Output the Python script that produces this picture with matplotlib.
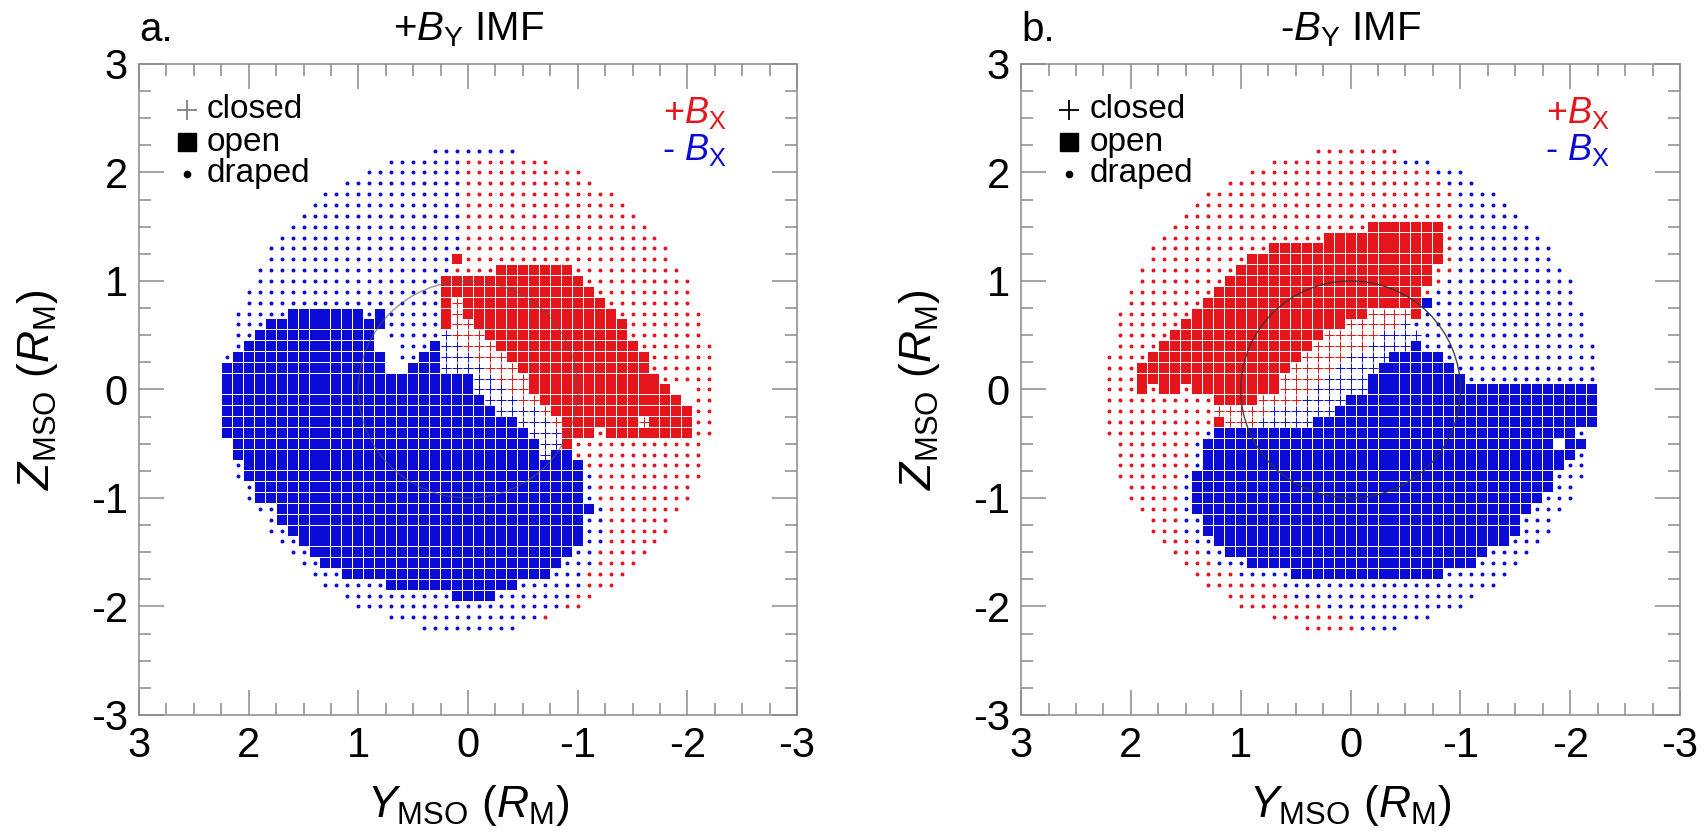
import numpy as np
import matplotlib
matplotlib.use("Agg")
import matplotlib.pyplot as plt
from matplotlib.patches import Circle
from matplotlib.ticker import MultipleLocator

plt.rcParams['font.family'] = ['Liberation Sans', 'DejaVu Sans']
plt.rcParams['mathtext.fontset'] = 'custom'
plt.rcParams['mathtext.rm'] = 'Liberation Sans'
plt.rcParams['mathtext.it'] = 'Liberation Sans:italic'
plt.rcParams['axes.unicode_minus'] = False

# grid of the map: columns go from Y = 2.2 (left) to -2.2, rows from Z = 2.2 (top) to -2.2
y_cols = np.round(np.linspace(2.2, -2.2, 45), 1)
z_rows = np.round(np.linspace(2.2, -2.2, 45), 1)

# each row: runs of (first column, last column, kind)
# b/r = draped (-Bx / +Bx), B/R = open, p/q = closed (-Bx / +Bx)
rows_a = [
    [(19, 26, 'b')],
    [(15, 21, 'b'), (22, 29, 'r')],
    [(13, 21, 'b'), (22, 32, 'r')],
    [(11, 21, 'b'), (22, 33, 'r')],
    [(9, 21, 'b'), (22, 35, 'r')],
    [(8, 21, 'b'), (22, 36, 'r')],
    [(7, 21, 'b'), (22, 37, 'r')],
    [(6, 21, 'b'), (22, 38, 'r')],
    [(5, 21, 'b'), (22, 39, 'r')],
    [(4, 21, 'b'), (22, 40, 'r')],
    [(4, 20, 'b'), (21, 21, 'R'), (22, 40, 'r')],
    [(3, 20, 'b'), (21, 24, 'r'), (25, 31, 'R'), (32, 41, 'r')],
    [(3, 19, 'b'), (20, 32, 'R'), (33, 42, 'r')],
    [(2, 19, 'b'), (20, 33, 'R'), (34, 42, 'r')],
    [(2, 19, 'b'), (20, 20, 'R'), (21, 21, 'q'), (22, 34, 'R'), (35, 42, 'r')],
    [(1, 5, 'b'), (6, 12, 'B'), (13, 13, 'b'), (14, 14, 'B'), (15, 19, 'b'), (20, 20, 'R'),
     (21, 21, 'q'), (22, 35, 'R'), (36, 43, 'r')],
    [(1, 3, 'b'), (4, 14, 'B'), (15, 19, 'b'), (20, 20, 'R'), (21, 22, 'q'), (23, 36, 'R'), (37, 43, 'r')],
    [(1, 2, 'b'), (3, 13, 'B'), (15, 19, 'b'), (20, 20, 'p'), (21, 23, 'q'), (24, 36, 'R'), (37, 43, 'r')],
    [(1, 1, 'b'), (2, 13, 'B'), (16, 18, 'b'), (19, 19, 'B'), (20, 21, 'p'), (22, 24, 'q'),
     (25, 37, 'R'), (38, 44, 'r')],
    [(0, 0, 'b'), (1, 14, 'B'), (16, 17, 'b'), (18, 19, 'B'), (20, 22, 'p'), (23, 25, 'q'),
     (26, 38, 'R'), (39, 44, 'r')],
    [(0, 14, 'B'), (17, 19, 'B'), (20, 23, 'p'), (24, 26, 'q'), (27, 38, 'R'), (39, 44, 'r')],
    [(0, 22, 'B'), (23, 24, 'p'), (25, 27, 'q'), (28, 39, 'R'), (40, 44, 'r')],
    [(0, 22, 'B'), (23, 25, 'p'), (26, 27, 'q'), (28, 40, 'R'), (43, 44, 'r')],
    [(0, 23, 'B'), (24, 26, 'p'), (27, 28, 'q'), (29, 41, 'R'), (43, 44, 'r')],
    [(0, 24, 'B'), (25, 28, 'p'), (29, 29, 'q'), (30, 42, 'R'), (43, 44, 'r')],
    [(0, 26, 'B'), (27, 29, 'p'), (30, 30, 'q'), (31, 37, 'R'), (38, 38, 'q'), (39, 42, 'R'), (43, 44, 'r')],
    [(0, 27, 'B'), (28, 30, 'p'), (31, 33, 'R'), (34, 34, 'r'), (35, 42, 'R'), (43, 44, 'r')],
    [(1, 28, 'B'), (29, 30, 'p'), (31, 31, 'R'), (32, 43, 'r')],
    [(1, 28, 'B'), (29, 29, 'p'), (30, 31, 'B'), (32, 43, 'r')],
    [(1, 1, 'b'), (2, 32, 'B'), (33, 43, 'r')],
    [(1, 1, 'b'), (2, 32, 'B'), (33, 33, 'b'), (34, 43, 'r')],
    [(2, 2, 'b'), (3, 32, 'B'), (33, 33, 'b'), (34, 42, 'r')],
    [(2, 2, 'b'), (3, 32, 'B'), (33, 33, 'b'), (34, 42, 'r')],
    [(3, 4, 'b'), (5, 33, 'B'), (34, 34, 'b'), (35, 41, 'r')],
    [(4, 4, 'b'), (5, 32, 'B'), (33, 34, 'b'), (35, 40, 'r')],
    [(4, 5, 'b'), (6, 32, 'B'), (33, 34, 'b'), (35, 40, 'r')],
    [(5, 6, 'b'), (7, 32, 'B'), (33, 34, 'b'), (35, 39, 'r')],
    [(6, 7, 'b'), (8, 31, 'B'), (32, 33, 'b'), (34, 38, 'r')],
    [(7, 8, 'b'), (9, 30, 'B'), (31, 33, 'b'), (34, 37, 'r')],
    [(8, 10, 'b'), (11, 29, 'B'), (30, 32, 'b'), (33, 36, 'r')],
    [(9, 14, 'b'), (15, 26, 'B'), (27, 32, 'b'), (33, 35, 'r')],
    [(11, 20, 'b'), (21, 24, 'B'), (25, 31, 'b'), (32, 33, 'r')],
    [(12, 30, 'b'), (31, 32, 'r')],
    [(15, 28, 'b'), (29, 29, 'r')],
    [(18, 26, 'b')],
]

rows_b = [
    [(19, 26, 'r')],
    [(15, 26, 'r'), (27, 29, 'b')],
    [(13, 29, 'r'), (30, 32, 'b')],
    [(11, 30, 'r'), (31, 33, 'b')],
    [(9, 31, 'r'), (32, 35, 'b')],
    [(8, 31, 'r'), (32, 36, 'b')],
    [(7, 31, 'r'), (32, 37, 'b')],
    [(6, 23, 'r'), (24, 30, 'R'), (31, 31, 'r'), (32, 38, 'b')],
    [(5, 19, 'r'), (20, 30, 'R'), (31, 31, 'r'), (32, 39, 'b')],
    [(4, 14, 'r'), (15, 30, 'R'), (31, 31, 'r'), (32, 40, 'b')],
    [(4, 12, 'r'), (13, 30, 'R'), (31, 31, 'r'), (32, 40, 'b')],
    [(3, 11, 'r'), (12, 29, 'R'), (30, 31, 'r'), (32, 41, 'b')],
    [(3, 10, 'r'), (11, 29, 'R'), (30, 30, 'r'), (31, 42, 'b')],
    [(2, 9, 'r'), (10, 28, 'R'), (29, 29, 'r'), (30, 42, 'b')],
    [(2, 8, 'r'), (9, 28, 'R'), (29, 29, 'B'), (30, 42, 'b')],
    [(1, 7, 'r'), (8, 23, 'R'), (24, 27, 'q'), (28, 28, 'R'), (29, 43, 'b')],
    [(1, 6, 'r'), (7, 21, 'R'), (22, 26, 'q'), (27, 27, 'p'), (28, 43, 'b')],
    [(1, 5, 'r'), (6, 19, 'R'), (20, 24, 'q'), (25, 28, 'p'), (29, 43, 'b')],
    [(1, 4, 'r'), (5, 18, 'R'), (19, 23, 'q'), (24, 27, 'p'), (28, 28, 'B'), (29, 44, 'b')],
    [(0, 3, 'r'), (4, 17, 'R'), (18, 21, 'q'), (22, 25, 'p'), (26, 30, 'B'), (31, 44, 'b')],
    [(0, 2, 'r'), (3, 16, 'R'), (17, 20, 'q'), (21, 24, 'p'), (25, 31, 'B'), (32, 44, 'b')],
    [(0, 2, 'r'), (3, 15, 'R'), (16, 19, 'q'), (20, 23, 'p'), (24, 32, 'B'), (33, 44, 'b')],
    [(0, 2, 'r'), (3, 3, 'R'), (4, 4, 'r'), (5, 6, 'R'), (7, 7, 'r'), (8, 15, 'R'), (16, 18, 'q'),
     (19, 23, 'p'), (24, 44, 'B')],
    [(0, 9, 'r'), (10, 13, 'R'), (14, 17, 'q'), (18, 21, 'p'), (22, 44, 'B')],
    [(0, 9, 'r'), (10, 14, 'q'), (15, 20, 'p'), (21, 44, 'B')],
    [(0, 9, 'r'), (10, 10, 'R'), (11, 13, 'q'), (14, 18, 'p'), (19, 44, 'B')],
    [(0, 8, 'r'), (9, 9, 'b'), (10, 42, 'B'), (43, 43, 'b')],
    [(1, 7, 'r'), (8, 8, 'b'), (9, 40, 'B'), (42, 43, 'B')],
    [(1, 7, 'r'), (8, 8, 'b'), (9, 42, 'B'), (43, 43, 'b')],
    [(1, 7, 'r'), (8, 8, 'b'), (9, 41, 'B'), (42, 43, 'b')],
    [(1, 6, 'r'), (7, 7, 'b'), (8, 40, 'B'), (41, 43, 'b')],
    [(2, 6, 'r'), (7, 7, 'b'), (8, 40, 'B'), (41, 42, 'b')],
    [(2, 6, 'r'), (7, 7, 'b'), (8, 39, 'B'), (40, 42, 'b')],
    [(3, 6, 'r'), (7, 7, 'b'), (8, 38, 'B'), (39, 41, 'b')],
    [(4, 6, 'r'), (7, 8, 'b'), (9, 37, 'B'), (38, 40, 'b')],
    [(4, 6, 'r'), (7, 8, 'b'), (9, 37, 'B'), (38, 40, 'b')],
    [(5, 7, 'r'), (8, 9, 'b'), (10, 36, 'B'), (37, 39, 'b')],
    [(6, 8, 'r'), (9, 10, 'b'), (11, 34, 'B'), (35, 38, 'b')],
    [(7, 9, 'r'), (10, 12, 'b'), (13, 33, 'B'), (34, 37, 'b')],
    [(8, 11, 'r'), (12, 16, 'b'), (17, 30, 'B'), (31, 36, 'b')],
    [(9, 15, 'r'), (16, 35, 'b')],
    [(11, 16, 'r'), (17, 33, 'b')],
    [(12, 19, 'r'), (20, 32, 'b')],
    [(15, 21, 'r'), (22, 29, 'b')],
    [(18, 22, 'r'), (23, 26, 'b')],
]

titles = [r'+$B_{\mathrm{Y}}$ IMF', r'-$B_{\mathrm{Y}}$ IMF']
letters = ['a.', 'b.']
legend_plus_colors = ['#808080', 'black']

RED = '#e6141b'
BLUE = '#0b0bd6'
styles = {
    'r': dict(marker='o', s=8, c=RED, linewidths=0),
    'b': dict(marker='o', s=8, c=BLUE, linewidths=0),
    'R': dict(marker='s', s=47, c=RED, linewidths=0),
    'B': dict(marker='s', s=47, c=BLUE, linewidths=0),
    'q': dict(marker='+', s=62, c=RED, linewidths=0.7),
    'p': dict(marker='+', s=62, c=BLUE, linewidths=0.7),
}


def draw_panel(ax, rows):
    pts = {k: ([], []) for k in styles}
    for i, runs in enumerate(rows):
        for c0, c1, kind in runs:
            for c in range(c0, c1 + 1):
                pts[kind][0].append(y_cols[c])
                pts[kind][1].append(z_rows[i])
    for kind, (xs, zs) in pts.items():
        if xs:
            ax.scatter(xs, zs, zorder=2, **styles[kind])


fig = plt.figure(figsize=(17.06, 8.34), dpi=100)
ax_a = fig.add_axes([0.0815, 0.1427, 0.3857, 0.7806])
ax_b = fig.add_axes([0.5985, 0.1427, 0.3863, 0.7806])

for k, (ax, rows) in enumerate([(ax_a, rows_a), (ax_b, rows_b)]):
    draw_panel(ax, rows)
    ax.add_patch(Circle((0, 0), 1.0, fill=False, ec='#333333' if k else '#555555',
                        lw=1.0, alpha=0.9 if k else 0.6, zorder=3))

    ax.set_xlim(3, -3)
    ax.set_ylim(-3, 3)
    ax.set_xticks([3, 2, 1, 0, -1, -2, -3])
    ax.set_xticklabels(['3', '2', '1', '0', '-1', '-2', '-3'])
    ax.set_yticks([-3, -2, -1, 0, 1, 2, 3])
    ax.set_yticklabels(['-3', '-2', '-1', '0', '1', '2', '3'])
    ax.xaxis.set_minor_locator(MultipleLocator(0.25))
    ax.yaxis.set_minor_locator(MultipleLocator(0.25))
    ax.tick_params(which='both', direction='in', top=True, right=True, color='#8a8a8a', width=1.1)
    ax.tick_params(which='major', length=18, labelsize=30, pad=8)
    ax.tick_params(which='minor', length=8.5)
    for sp in ax.spines.values():
        sp.set_color('#8a8a8a')
        sp.set_linewidth(1.1)

    ax.set_xlabel(r'$Y_{\mathrm{MSO}}$ ($R_{\mathrm{M}}$)', fontsize=32)
    ax.set_ylabel(r'$Z_{\mathrm{MSO}}$ ($R_{\mathrm{M}}$)', fontsize=32)
    ax.xaxis.set_label_coords(0.5, -0.104)
    ax.yaxis.set_label_coords(-0.12, 0.5)

    # key in the upper left corner
    ax.plot([2.56], [2.58], marker='+', ms=15, mew=1.3, color=legend_plus_colors[k], ls='none')
    ax.plot([2.56], [2.28], marker='s', ms=13, color='black', ls='none')
    ax.plot([2.56], [1.99], marker='o', ms=4.5, color='black', ls='none')
    ax.text(2.38, 2.58, 'closed', fontsize=24, va='center', ha='left')
    ax.text(2.38, 2.28, 'open', fontsize=24, va='center', ha='left')
    ax.text(2.38, 1.99, 'draped', fontsize=24, va='center', ha='left')
    ax.text(-2.36, 2.55, r'+$B_{\mathrm{X}}$', fontsize=26, color=RED, va='center', ha='right')
    ax.text(-2.36, 2.21, r'- $B_{\mathrm{X}}$', fontsize=26, color=BLUE, va='center', ha='right')

    pos = ax.get_position()
    fig.text(pos.x0, 0.951, letters[k], fontsize=29, ha='left', va='baseline')
    fig.text(pos.x0 + pos.width / 2, 0.951, titles[k], fontsize=29, ha='center', va='baseline')

fig.savefig('out.png', dpi=100)
